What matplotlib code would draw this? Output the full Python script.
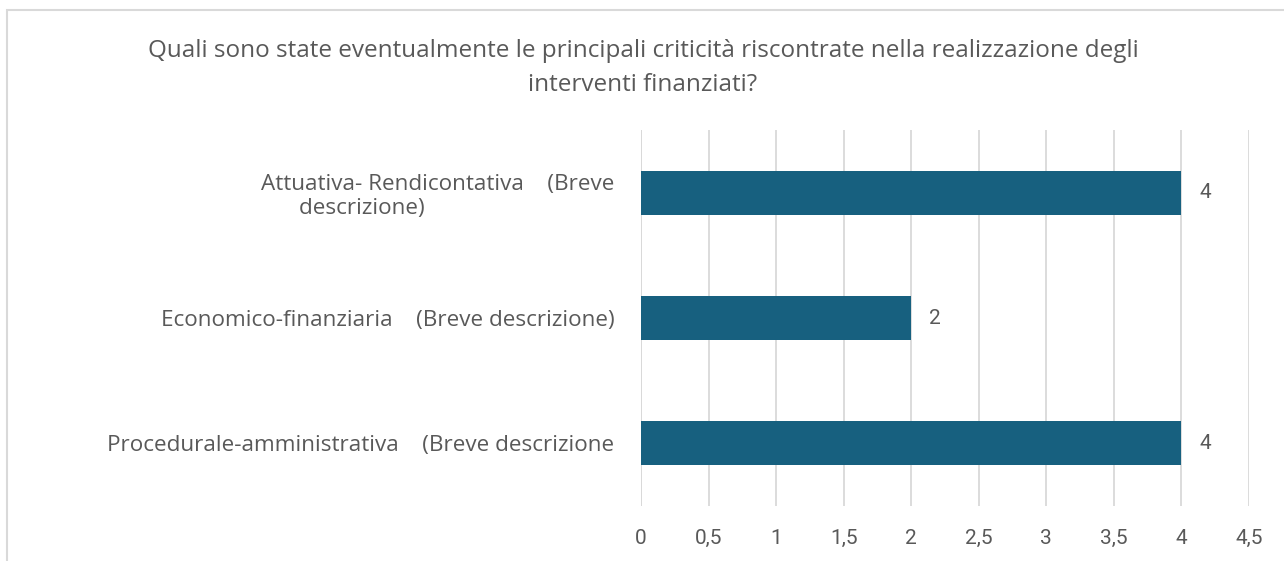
import matplotlib
matplotlib.use("Agg")
import matplotlib.pyplot as plt
from matplotlib.patches import Rectangle
from matplotlib.ticker import FuncFormatter

plt.rcParams['font.family'] = ['Roboto', 'DejaVu Sans']

categories = [
    "Procedurale-amministrativa    (Breve descrizione",
    "Economico-finanziaria    (Breve descrizione)",
    "Attuativa- Rendicontativa    (Breve\ndescrizione)" + " " * 26,
]
values = [4, 2, 4]
x_ticks = [0, 0.5, 1, 1.5, 2, 2.5, 3, 3.5, 4, 4.5]
title = ("Quali sono state eventualmente le principali criticità riscontrate nella realizzazione degli\n"
         "interventi finanziati?")

bar_color = "#17607F"
text_color = "#595959"
grid_color = "#D9D9D9"
label_font = ['Open Sans', 'DejaVu Sans']

fig = plt.figure(figsize=(12.84, 5.61), dpi=100)
ax = fig.add_axes([0.4992, 0.0989, 0.4735, 0.6685])

# outer chart frame
fig.patches.append(Rectangle((7 / 1284, -0.1), 1.2, 1 - 10 / 561 + 0.1,
                             transform=fig.transFigure, fill=False,
                             edgecolor="#D9D9D9", linewidth=1.5))

ypos = list(range(len(categories)))
bars = ax.barh(ypos, values, height=0.35, color=bar_color, zorder=3)
for y, v in zip(ypos, values):
    ax.annotate(f"{v}", xy=(v, y), xytext=(13, 0), textcoords="offset points",
                va="center", ha="left", fontsize=15, color=text_color)

ax.set_xlim(0, 4.5)
ax.set_ylim(-0.5, 2.5)
ax.set_xticks(x_ticks)
ax.xaxis.set_major_formatter(FuncFormatter(lambda v, p: f"{v:g}".replace(".", ",")))
ax.set_yticks(ypos)
ax.set_yticklabels(categories, multialignment="center", family=label_font,
                   linespacing=1.15)
ax.tick_params(axis="x", length=0, pad=17, labelsize=15, labelcolor=text_color)
ax.tick_params(axis="y", length=0, pad=19, labelsize=16.2, labelcolor=text_color)
ax.grid(axis="x", color=grid_color, linewidth=1.3, zorder=0)
ax.axvline(0, color=grid_color, linewidth=1.3, zorder=1)
for s in ax.spines.values():
    s.set_visible(False)

fig.text(643 / 1284, 1 - 68 / 561, title, ha="center", va="center", fontsize=17.5,
         color=text_color, linespacing=1.55, family=label_font)

fig.savefig("out.png", dpi=100, facecolor="white")
